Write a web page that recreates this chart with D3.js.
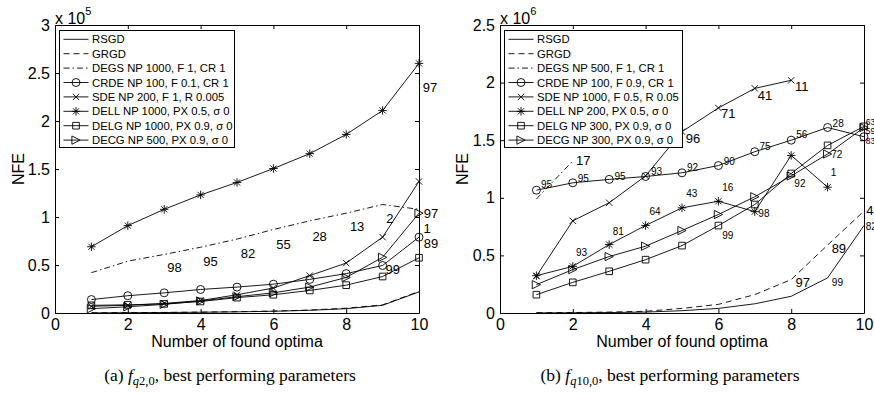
<!DOCTYPE html>
<html>
<head>
<meta charset="utf-8">
<script src="https://cdn.jsdelivr.net/npm/d3@7"></script>
<style>
  body { margin: 0; background: #fff; }
  svg { display: block; }
</style>
</head>
<body>
<svg id="chart" width="874" height="394"></svg>
<script>
// ---------- shared ----------
const optima = [1, 2, 3, 4, 5, 6, 7, 8, 9, 10];
const xTicks = [0, 2, 4, 6, 8, 10];
const legendNamesA = ["RSGD", "GRGD", "DEGS NP 1000, F 1, CR 1", "CRDE NP 100, F 0.1, CR 1",
  "SDE NP 200, F 1, R 0.005", "DELL NP 1000, PX 0.5, σ 0", "DELG NP 1000, PX 0.9, σ 0", "DECG NP 500, PX 0.9, σ 0"];
const legendNamesB = ["RSGD", "GRGD", "DEGS NP 500, F 1, CR 1", "CRDE NP 100, F 0.9, CR 1",
  "SDE NP 1000, F 0.5, R 0.05", "DELL NP 200, PX 0.5, σ 0", "DELG NP 300, PX 0.9, σ 0", "DECG NP 300, PX 0.9, σ 0"];

// ---------- panel (a): f_q2,0, NFE in units of 1e5 ----------
const aYTicks = [0, 0.5, 1, 1.5, 2, 2.5, 3];
const aRSGD = [0.001, 0.003, 0.005, 0.008, 0.012, 0.018, 0.028, 0.045, 0.08, 0.22];
const aGRGD = [0.002, 0.004, 0.006, 0.009, 0.014, 0.02, 0.031, 0.05, 0.085, 0.225];
const aDEGS = [0.42, 0.54, 0.61, 0.685, 0.77, 0.87, 0.96, 1.04, 1.13, 1.08];
const aCRDE = [0.14, 0.18, 0.21, 0.245, 0.27, 0.30, 0.35, 0.41, 0.495, 0.79];
const aSDE  = [0.07, 0.08, 0.10, 0.13, 0.19, 0.26, 0.39, 0.52, 0.79, 1.37];
const aDELL = [0.69, 0.91, 1.08, 1.23, 1.36, 1.505, 1.66, 1.86, 2.11, 2.6];
const aDELG = [0.08, 0.085, 0.095, 0.12, 0.16, 0.19, 0.235, 0.29, 0.38, 0.575];
const aDECG = [0.045, 0.065, 0.09, 0.125, 0.17, 0.21, 0.27, 0.37, 0.58, 1.04];
// success-rate annotations: [text, optima, NFE]
const aNotes = [
  ["97", 10.3, 2.35], ["98", 3.28, 0.47], ["95", 4.27, 0.54], ["82", 5.3, 0.62],
  ["55", 6.28, 0.71], ["28", 7.27, 0.80], ["13", 8.3, 0.90], ["2", 9.2, 0.98],
  ["97", 10.33, 1.04], ["1", 10.22, 0.885], ["89", 10.33, 0.72], ["99", 9.28, 0.45]
];

// ---------- panel (b): f_q10,0, NFE in units of 1e6 ----------
const bYTicks = [0, 0.5, 1, 1.5, 2, 2.5];
const bRSGD = [0.001, 0.002, 0.004, 0.008, 0.02, 0.04, 0.08, 0.145, 0.305, 0.76];
const bGRGD = [0.002, 0.004, 0.008, 0.015, 0.04, 0.075, 0.16, 0.29, 0.59, 0.885];
const bDEGS = [0.99, 1.32];
const bCRDE = [1.066, 1.13, 1.16, 1.185, 1.217, 1.28, 1.40, 1.50, 1.61, 1.53];
const bSDE  = [0.32, 0.80, 0.957, 1.19, 1.574, 1.78, 1.95, 2.02];
const bDELL = [0.324, 0.405, 0.594, 0.76, 0.913, 0.97, 0.88, 1.368, 1.092];
const bDELG = [0.159, 0.266, 0.362, 0.463, 0.585, 0.759, 0.942, 1.211, 1.455, 1.62];
const bDECG = [0.246, 0.377, 0.49, 0.58, 0.716, 0.855, 1.009, 1.19, 1.38, 1.61];
const bNotesLarge = [
  ["17", 2.29, 1.327], ["96", 5.3, 1.517], ["71", 6.27, 1.73], ["41", 7.28, 1.89],
  ["11", 8.29, 1.965], ["97", 8.32, 0.266], ["89", 9.31, 0.559], ["4", 10.16, 0.892]
];
const bNotesSmall = [
  ["95", 1.28, 1.116], ["95", 2.29, 1.165], ["95", 3.3, 1.188], ["93", 4.3, 1.231],
  ["92", 5.29, 1.261], ["90", 6.3, 1.318], ["75", 7.28, 1.449], ["56", 8.29, 1.55],
  ["28", 9.29, 1.646], ["93", 2.24, 0.527], ["81", 3.25, 0.71], ["64", 4.26, 0.883],
  ["43", 5.27, 1.035], ["16", 6.26, 1.087], ["98", 7.25, 0.861], ["99", 6.26, 0.672],
  ["92", 8.24, 1.122], ["1", 9.16, 1.217], ["72", 9.25, 1.377], ["99", 9.27, 0.266],
  ["82", 10.2, 0.748]
];
const bNotesEdge = [["63", 10.18, 1.66], ["59", 10.18, 1.578], ["83", 10.18, 1.496]];

// ---------- marker shapes ----------
const symAsterisk = { draw(c, s) { const r = Math.sqrt(s), d = r * 0.72;
  c.moveTo(-r, 0); c.lineTo(r, 0); c.moveTo(0, -r); c.lineTo(0, r);
  c.moveTo(-d, -d); c.lineTo(d, d); c.moveTo(-d, d); c.lineTo(d, -d); } };
const symX = { draw(c, s) { const r = Math.sqrt(s);
  c.moveTo(-r, -r); c.lineTo(r, r); c.moveTo(-r, r); c.lineTo(r, -r); } };
const symTriRight = { draw(c, s) { const r = Math.sqrt(s);
  c.moveTo(r, 0); c.lineTo(-r, -r); c.lineTo(-r, r); c.closePath(); } };
const symCircle = { draw(c, s) { const r = Math.sqrt(s); c.moveTo(r, 0); c.arc(0, 0, r, 0, 2 * Math.PI); } };
const symSquare = { draw(c, s) { const r = Math.sqrt(s); c.rect(-r, -r, 2 * r, 2 * r); } };

const styles = [
  { dash: null, sym: null },
  { dash: "6,4", sym: null },
  { dash: "6,3,1.5,3", sym: null },
  { dash: null, sym: symCircle, size: 16 },
  { dash: null, sym: symX, size: 10 },
  { dash: null, sym: symAsterisk, size: 18 },
  { dash: null, sym: symSquare, size: 11 },
  { dash: null, sym: symTriRight, size: 17 }
];

const FONT = "'Liberation Sans', Arial, Helvetica, sans-serif";
const SERIF = "'Liberation Serif', 'Times New Roman', serif";
const svg = d3.select("#chart");
const TOP = 25, BOTTOM = 313;

function panel(cfg) {
  const x = d3.scaleLinear().domain([0, 10]).range([cfg.left, cfg.right]);
  const y = d3.scaleLinear().domain([0, cfg.yMax]).range([BOTTOM, TOP]);

  const line = d3.line().x((d, i) => x(optima[i])).y(d => y(d));
  const series = svg.append("g");
  cfg.series.forEach((vals, k) => {
    const st = styles[k];
    series.append("path").datum(vals)
      .attr("d", line).attr("fill", "none").attr("stroke", "#000")
      .attr("stroke-width", 0.9).attr("stroke-dasharray", st.dash);
    if (st.sym) {
      series.selectAll(null).data(vals).enter().append("path")
        .attr("transform", (d, i) => `translate(${x(optima[i])},${y(d)})`)
        .attr("d", d3.symbol().type(st.sym).size(st.size))
        .attr("fill", "none").attr("stroke", "#000").attr("stroke-width", 0.9);
    }
  });

  // success-rate annotations
  const notes = svg.append("g").attr("font-family", FONT).attr("text-anchor", "middle")
    .attr("dominant-baseline", "central");
  cfg.notes.forEach(([list, fs]) => {
    notes.selectAll(null).data(list).enter().append("text")
      .attr("x", d => x(d[1])).attr("y", d => y(d[2]))
      .attr("font-size", fs).text(d => d[0]);
  });

  // axes box and inward ticks
  const ax = svg.append("g").attr("font-family", FONT).attr("font-size", 16);
  ax.append("g").attr("transform", `translate(0,${BOTTOM})`)
    .call(d3.axisBottom(x).tickValues(xTicks).tickSizeInner(-4).tickSizeOuter(0).tickPadding(6).tickFormat(d3.format("d")));
  ax.append("g").attr("transform", `translate(0,${TOP})`)
    .call(d3.axisTop(x).tickValues(xTicks).tickSizeInner(-4).tickSizeOuter(0).tickFormat(""));
  ax.append("g").attr("transform", `translate(${cfg.left},0)`)
    .call(d3.axisLeft(y).tickValues(cfg.yTicks).tickSizeInner(-4).tickSizeOuter(0).tickPadding(5).tickFormat(d => String(d)));
  ax.append("g").attr("transform", `translate(${cfg.right},0)`)
    .call(d3.axisRight(y).tickValues(cfg.yTicks).tickSizeInner(-4).tickSizeOuter(0).tickFormat(""));
  ax.selectAll(".tick text").attr("fill", "#000").attr("font-size", 16);
  ax.selectAll("line, path.domain").attr("stroke", "#000");

  // exponent
  const ex = svg.append("text").attr("font-family", FONT).attr("x", cfg.left).attr("y", 23.5).attr("font-size", 16);
  ex.append("tspan").text("x 10");
  ex.append("tspan").attr("dy", -9).attr("font-size", 11).text(cfg.exp);

  // axis titles
  svg.append("text").attr("font-family", FONT).attr("font-size", 16).attr("text-anchor", "middle")
    .attr("x", (cfg.left + cfg.right) / 2).attr("y", 347).text("Number of found optima");
  svg.append("text").attr("font-family", FONT).attr("font-size", 16).attr("text-anchor", "middle")
    .attr("transform", `translate(${cfg.ylabX},${(TOP + BOTTOM) / 2}) rotate(-90)`)
    .attr("dominant-baseline", "central").text("NFE");

  // legend
  const lg = svg.append("g").attr("transform", `translate(${cfg.left + 4.5},${TOP + 5.5})`);
  lg.append("rect").attr("width", cfg.legendW).attr("height", 117)
    .attr("fill", "#fff").attr("stroke", "#000").attr("stroke-width", 1);
  cfg.legend.forEach((name, k) => {
    const st = styles[k];
    const yy = 8.8 + k * 14.4;
    lg.append("line").attr("x1", 4).attr("x2", 29).attr("y1", yy).attr("y2", yy)
      .attr("stroke", "#000").attr("stroke-width", 0.9).attr("stroke-dasharray", st.dash);
    if (st.sym) {
      lg.append("path").attr("transform", `translate(16.5,${yy})`)
        .attr("d", d3.symbol().type(st.sym).size(st.size))
        .attr("fill", "none").attr("stroke", "#000").attr("stroke-width", 0.9);
    }
    lg.append("text").attr("x", 32.5).attr("y", yy).attr("dominant-baseline", "central")
      .attr("font-family", FONT).attr("font-size", 11.3).text(name);
  });

  // caption
  const cap = svg.append("text").attr("font-family", SERIF).attr("font-size", 17.5)
    .attr("text-anchor", "middle").attr("x", cfg.capX).attr("y", 381);
  cap.append("tspan").text(cfg.capTag + " ");
  cap.append("tspan").attr("font-style", "italic").text("f");
  const sub = cap.append("tspan").attr("dy", 4).attr("font-size", 12.5);
  sub.append("tspan").attr("font-style", "italic").text("q");
  sub.append("tspan").text(cfg.capSub);
  cap.append("tspan").attr("dy", -4).text(", best performing parameters");
}

panel({
  left: 55, right: 419, yMax: 3, yTicks: aYTicks, exp: "5", ylabX: 18,
  series: [aRSGD, aGRGD, aDEGS, aCRDE, aSDE, aDELL, aDELG, aDECG],
  notes: [[aNotes, 13]], legend: legendNamesA, legendW: 175,
  capX: 230, capTag: "(a)", capSub: "2,0"
});
panel({
  left: 500, right: 864, yMax: 2.5, yTicks: bYTicks, exp: "6", ylabX: 462,
  series: [bRSGD, bGRGD, bDEGS, bCRDE, bSDE, bDELL, bDELG, bDECG],
  notes: [[bNotesLarge, 13], [bNotesSmall, 10], [bNotesEdge, 8.5]], legend: legendNamesB, legendW: 178,
  capX: 670, capTag: "(b)", capSub: "10,0"
});
</script>
</body>
</html>
